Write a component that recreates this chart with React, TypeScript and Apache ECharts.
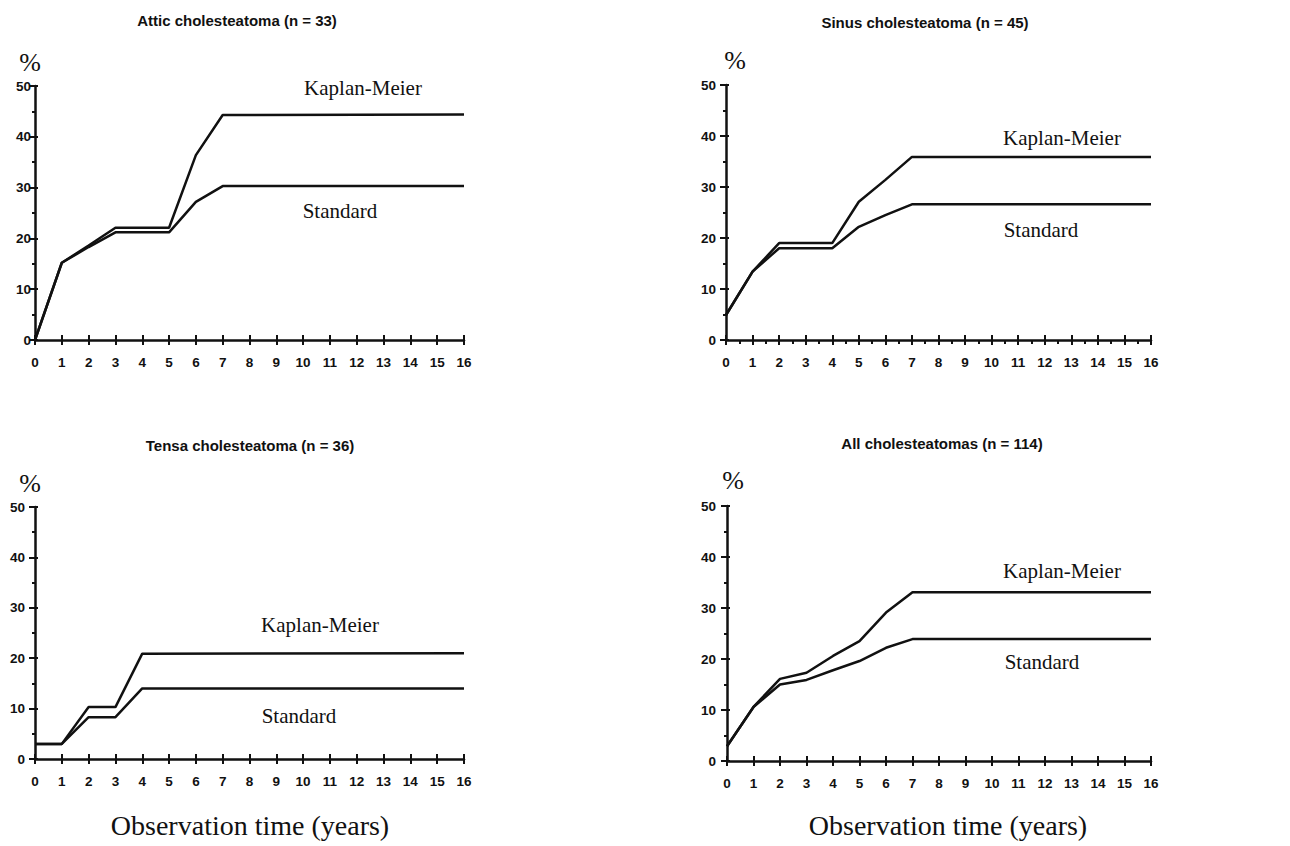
import React, { useEffect, useRef } from "react";
import * as echarts from "echarts";

// ---- Data ----
const titles = [
  "Attic cholesteatoma (n = 33)",
  "Sinus cholesteatoma (n = 45)",
  "Tensa cholesteatoma (n = 36)",
  "All cholesteatomas (n = 114)",
];
const xTicks = [0, 1, 2, 3, 4, 5, 6, 7, 8, 9, 10, 11, 12, 13, 14, 15, 16];
const yTicks = [0, 10, 20, 30, 40, 50];

const atticYears = [0, 1, 2, 3, 5, 6, 7, 16];
const atticKM = [0, 15.2, 18.6, 22.1, 22.1, 36.4, 44.3, 44.4];
const atticStd = [0, 15.2, 18.3, 21.2, 21.2, 27.2, 30.3, 30.3];

const sinusYears = [0, 1, 2, 4, 5, 6, 7, 16];
const sinusKM = [4.9, 13.4, 19.0, 19.0, 27.1, 31.4, 35.9, 35.9];
const sinusStd = [4.9, 13.4, 18.0, 18.0, 22.2, 24.5, 26.6, 26.6];

const tensaYears = [0, 1, 2, 3, 4, 16];
const tensaKM = [3.0, 3.0, 10.3, 10.3, 20.9, 21.0];
const tensaStd = [3.0, 3.0, 8.3, 8.3, 14.0, 14.0];

const allYears = [0, 1, 2, 3, 4, 5, 6, 7, 16];
const allKM = [2.9, 10.6, 16.1, 17.3, 20.6, 23.5, 29.1, 33.1, 33.1];
const allStd = [2.9, 10.6, 15.0, 15.9, 17.8, 19.6, 22.2, 23.9, 23.9];

const panels = [
  { years: atticYears, km: atticKM, std: atticStd },
  { years: sinusYears, km: sinusKM, std: sinusStd },
  { years: tensaYears, km: tensaKM, std: tensaStd },
  { years: allYears, km: allKM, std: allStd },
];

// ---- Layout (pixels) ----
const grids = [
  { left: 35, top: 86, width: 429, height: 254 },
  { left: 726, top: 85, width: 425, height: 255 },
  { left: 35, top: 507, width: 429, height: 252 },
  { left: 727, top: 506, width: 424, height: 255 },
];
const yLabelMargin = [4, 10, 10, 11];
const titlePos = [
  [237, 20],
  [925, 22],
  [250, 445],
  [942, 443],
];
const pctPos = [
  [30, 62],
  [735, 60],
  [30, 483],
  [733, 480],
];
const kmPos = [
  [363, 88],
  [1062, 138],
  [320, 625],
  [1062, 571],
];
const stdPos = [
  [340, 211],
  [1041, 230],
  [299, 716],
  [1042, 662],
];
const obsPos = [
  [250, 825],
  [948, 825],
];
const minorX = [false, true, false, false];

const black = "#111";
const sans = "Liberation Sans, Arial, sans-serif";
const narrow = "Liberation Sans Narrow, Arial Narrow, Liberation Sans, sans-serif";
const serif = "Liberation Serif, Times New Roman, serif";

export default function App() {
  const ref = useRef<HTMLDivElement>(null);
  useEffect(() => {
    if (!ref.current) return;
    const chart = echarts.init(ref.current, undefined, { renderer: "svg" });
    const xAxis: any[] = [];
    const yAxis: any[] = [];
    const series: any[] = [];
    grids.forEach((g, i) => {
      const base = { type: "value", gridIndex: i, min: 0, max: 16, interval: 1, splitLine: { show: false } };
      xAxis.push({
        ...base,
        position: "bottom",
        axisLine: { show: true, lineStyle: { color: black, width: 2.5 } },
        axisTick: { show: true, inside: false, length: 5, lineStyle: { color: black, width: 2 } },
        minorTick: { show: minorX[i], splitNumber: 2, length: 4, lineStyle: { color: black, width: 2 } },
        axisLabel: {
          show: true, margin: 15, color: black, fontFamily: narrow, fontWeight: "bold", fontSize: 13.5,
          formatter: (v: number) => (xTicks.includes(v) ? String(v) : ""),
        },
      });
      xAxis.push({
        ...base,
        position: "bottom",
        axisLine: { show: false },
        axisTick: { show: true, inside: true, length: 5, lineStyle: { color: black, width: 2 } },
        axisLabel: { show: false },
      });
      const ybase = { type: "value", gridIndex: i, min: 0, max: 50, interval: 10, splitLine: { show: false } };
      yAxis.push({
        ...ybase,
        position: "left",
        axisLine: { show: true, lineStyle: { color: black, width: 2.5 } },
        axisTick: { show: true, inside: false, length: 6, lineStyle: { color: black, width: 2 } },
        minorTick: { show: true, splitNumber: 2, length: 3, lineStyle: { color: black, width: 2 } },
        axisLabel: {
          show: true, margin: yLabelMargin[i], color: black, fontFamily: narrow, fontWeight: "bold", fontSize: 13.5,
          formatter: (v: number) => (yTicks.includes(v) ? String(v) : ""),
        },
      });
      yAxis.push({
        ...ybase,
        position: "left",
        axisLine: { show: false },
        axisTick: { show: true, inside: true, length: 3, lineStyle: { color: black, width: 2 } },
        axisLabel: { show: false },
      });
      const p = panels[i];
      series.push({
        type: "line", name: "Kaplan-Meier", xAxisIndex: i * 2, yAxisIndex: i * 2,
        data: p.years.map((x, k) => [x, p.km[k]]), showSymbol: false, symbol: "none",
        lineStyle: { color: black, width: 2.5 }, z: 3,
      });
      series.push({
        type: "line", name: "Standard", xAxisIndex: i * 2, yAxisIndex: i * 2,
        data: p.years.map((x, k) => [x, p.std[k]]), showSymbol: false, symbol: "none",
        lineStyle: { color: black, width: 2.5 }, z: 3,
      });
    });

    const graphic: any[] = [];
    const txt = (t: string, x: number, y: number, font: any) => ({
      type: "text", x, y, silent: true,
      style: { text: t, fill: black, align: "center", verticalAlign: "middle", ...font },
    });
    titles.forEach((t, i) => {
      graphic.push(txt(t, titlePos[i][0], titlePos[i][1], { fontFamily: sans, fontWeight: "bold", fontSize: 15 }));
      graphic.push(txt("%", pctPos[i][0], pctPos[i][1], { fontFamily: serif, fontSize: 26 }));
      graphic.push(txt("Kaplan-Meier", kmPos[i][0], kmPos[i][1], { fontFamily: serif, fontSize: 21 }));
      graphic.push(txt("Standard", stdPos[i][0], stdPos[i][1], { fontFamily: serif, fontSize: 21 }));
    });
    obsPos.forEach((p) =>
      graphic.push(txt("Observation time (years)", p[0], p[1], { fontFamily: serif, fontSize: 28 }))
    );

    chart.setOption({
      animation: false,
      backgroundColor: "#fff",
      grid: grids.map((g) => ({ ...g, containLabel: false })),
      xAxis,
      yAxis,
      series,
      graphic,
    });
    return () => chart.dispose();
  }, []);
  return (
    <div
      ref={ref}
      style={{ position: "fixed", left: 0, top: 0, width: 1290, height: 846, background: "#fff" }}
    />
  );
}
